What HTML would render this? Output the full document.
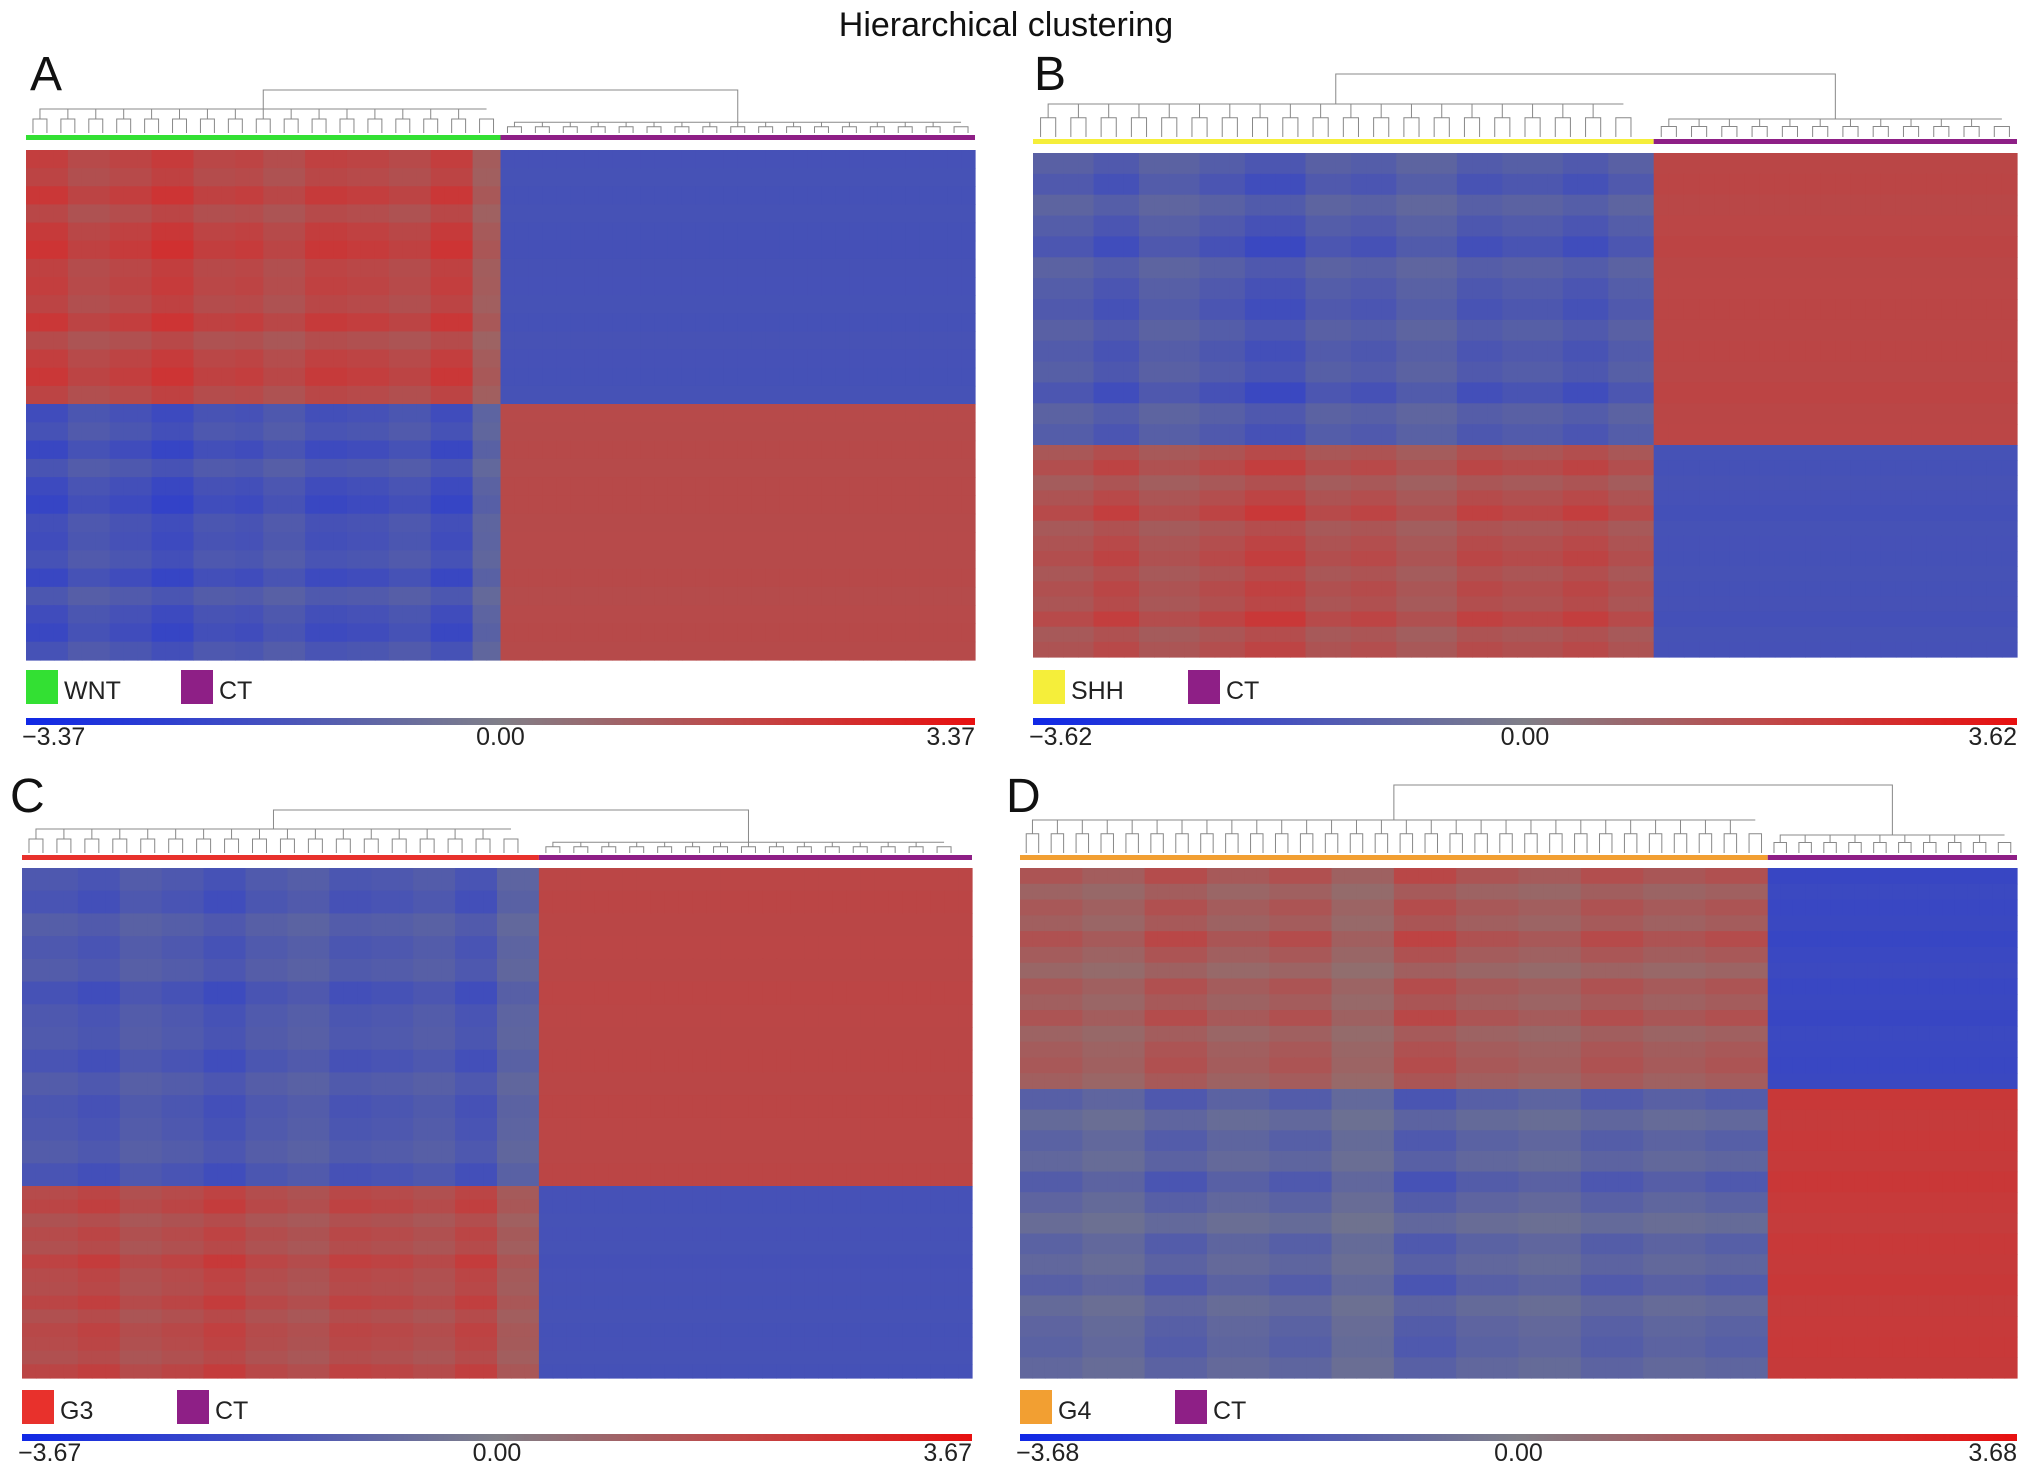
<!DOCTYPE html>
<html><head><meta charset="utf-8">
<style>
html,body{margin:0;padding:0;background:#fff;}
body{width:2032px;height:1473px;overflow:hidden;font-family:"Liberation Sans",sans-serif;}
</style></head>
<body>
<svg id="fig" width="2032" height="1473" xmlns="http://www.w3.org/2000/svg">
<text x="1006" y="36" font-size="34" text-anchor="middle" fill="#111" font-family="Liberation Sans, sans-serif">Hierarchical clustering</text>
</svg>
<script>
// ---- data ----
const panelLetters = ["A","B","C","D"];
const groupLabels = [["WNT","CT"],["SHH","CT"],["G3","CT"],["G4","CT"]];
const groupColors = [["#33e033","#8e1f86"],["#f5ee3a","#8e1f86"],["#e8312c","#8e1f86"],["#f29f32","#8e1f86"]];
const scaleMax = [3.37,3.62,3.67,3.68];
const colCounts = [[34,34],[41,24],[37,31],[60,20]];
// quadrant mean values (fraction of scale max): [top-left, top-right, bottom-left, bottom-right]
const quadA = [0.6,-0.58,-0.58,0.54];
const quadB = [-0.48,0.58,0.5,-0.58];
const quadC = [-0.5,0.58,0.53,-0.58];
const quadD = [0.36,-0.7,-0.34,0.7];
// column strength bands
const colBandsA = [1.1,0.9,1.0,1.15,0.95,1.0,0.85,1.05,1.0,0.9,1.1,0.6];
const colBandsB = [0.9,1.1,0.85,1.0,1.2,0.9,1.0,0.8,1.05,0.95,1.1,0.9];
const colBandsC = [1.0,1.1,0.9,1.0,1.15,0.95,0.85,1.05,1.0,0.9,1.1,0.7];
const colBandsD = [1.0,0.8,1.2,0.9,1.1,0.7,1.3,1.0,0.85,1.15,0.95,1.1];
// row strength bands
const rowBandsA = [1.0,0.9,1.1,0.85,1.05,1.15,0.95,1.0,0.9,1.1,0.8,1.0,1.1,0.9];
const rowBandsB = [0.9,1.1,0.8,1.0,1.2,0.85,1.0,1.1,0.9,1.05,0.95,1.2,0.85,1.0];
const rowBandsC = [1.0,1.1,0.85,1.0,0.9,1.15,1.0,0.95,1.1,0.9,1.05,1.0,0.9,1.1];
const rowBandsD = [1.2,0.8,1.1,0.9,1.3,1.0,0.7,1.1,0.9,1.2,0.8,1.0,1.1,0.9];
const quads = [quadA,quadB,quadC,quadD];
const colBands = [colBandsA,colBandsB,colBandsC,colBandsD];
const rowBands = [rowBandsA,rowBandsB,rowBandsC,rowBandsD];

// ---- layout ----
const layout = [
 {x0:26,x1:975,y0:150,y1:660,splitY:404,barY:135,letterX:30,letterY:90,legY:670,cbY:718},
 {x0:1033,x1:2017,y0:153,y1:657,splitY:445,barY:139,letterX:1034,letterY:90,legY:670,cbY:718},
 {x0:22,x1:972,y0:868,y1:1378,splitY:1186,barY:855,letterX:10,letterY:812,legY:1390,cbY:1434},
 {x0:1020,x1:2017,y0:868,y1:1378,splitY:1089,barY:855,letterX:1006,letterY:812,legY:1390,cbY:1434}
];
const NS="http://www.w3.org/2000/svg";
const svg=document.getElementById('fig');
function mk(tag,attrs,parent){const e=document.createElementNS(NS,tag);for(const k in attrs)e.setAttribute(k,attrs[k]);(parent||svg).appendChild(e);return e;}
function color(v){v=Math.max(-1,Math.min(1,v));const a=Math.abs(v);
 let r,g,b; if(v<0){r=128-a*100;g=128-a*80;b=128+a*95;}else{r=128+a*102;g=128-a*100;b=128-a*100;}
 return `rgb(${r|0},${g|0},${b|0})`;}

layout.forEach((L,p)=>{
 const g=mk('g',{});
 
 
 const letter=mk('text',{x:L.letterX,y:L.letterY,'font-size':48,fill:'#111','font-family':'Liberation Sans, sans-serif'},g);
 letter.textContent=panelLetters[p];
 
 
 const [nL,nR]=colCounts[p]; const n=nL+nR;
 const W=L.x1-L.x0; const cw=W/n;
 const xSplit=L.x0+cw*nL;
 const q=quads[p], cb=colBands[p], rb=rowBands[p];
 const hm=mk('g',{},g);
 
 
 const rowsPerHalf=rb.length;
 const halves=[[L.y0,L.splitY],[L.splitY,L.y1]];
 halves.forEach((hv,hi)=>{
  const rh=(hv[1]-hv[0])/rowsPerHalf;
  for(let r=0;r<rowsPerHalf;r++){
   for(let c=0;c<n;c++){
    const side=c<nL?0:1;
    const base=q[hi*2+side];
    const colIdx=side===0?Math.floor(c/nL*cb.length):Math.floor((c-nL)/nR*cb.length);
    const v=side===0?base*cb[colIdx]*rb[r]:base*(0.9+0.1*rb[r]);
    const cell=mk('rect',{x:(L.x0+c*cw).toFixed(2),y:(hv[0]+r*rh).toFixed(2),width:(cw+0.6).toFixed(2),height:(rh+0.6).toFixed(2),fill:color(v)},hm);
    
    
   }
  }
 });
 const gb1=mk('rect',{x:L.x0,y:L.barY,width:xSplit-L.x0,height:5,fill:groupColors[p][0]},g);
 
 
 const gb2=mk('rect',{x:xSplit,y:L.barY,width:L.x1-xSplit,height:5,fill:groupColors[p][1]},g);
 
 
 const dg=mk('g',{stroke:'#888','stroke-width':1,fill:'none'},g);
 
 
 const leafTop=L.barY-2;
 function subtree(start,count,h){
  let d='';
  const pairs=Math.floor(count/2);
  const mids=[];
  for(let i=0;i<pairs;i++){
   const xa=L.x0+(start+2*i+0.5)*cw, xb=L.x0+(start+2*i+1.5)*cw;
   const hy=leafTop-h*0.35;
   d+=`M${xa},${leafTop}V${hy}H${xb}V${leafTop}`;
   mids.push((xa+xb)/2);
  }
  const top=leafTop-h;
  const hy2=leafTop-h*0.6;
  d+=`M${mids[0]},${leafTop-h*0.35}V${hy2}H${mids[mids.length-1]}`;
  for(let i=1;i<mids.length-1;i++) d+=`M${mids[i]},${leafTop-h*0.35}V${hy2}`;
  const cx=(mids[0]+mids[mids.length-1])/2;
  d+=`M${cx},${hy2}V${top}`;
  return {d,cx,top};
 }
 const hL=(p===1||p===3)?55:40, hR=(p===1||p===3)?30:18;
 const a=subtree(0,nL,hL), b=subtree(nL,nR,hR);
 const rootY=L.barY-(p===3?70:(p===1?65:45));
 const dpath=mk('path',{d:a.d+b.d+`M${a.cx},${a.top}V${rootY}H${b.cx}V${b.top}`},dg);
 
 
 const lg=mk('g',{},g);
 
 
 [0,1].forEach(i=>{
  const lx=L.x0+(i?155:0);
  const sw=mk('rect',{x:lx,y:L.legY,width:32,height:34,fill:groupColors[p][i]},lg);
  
  
  const t=mk('text',{x:lx+38,y:L.legY+29,'font-size':25,fill:'#222','font-family':'Liberation Sans, sans-serif'},lg);
  t.textContent=groupLabels[p][i];
  
  
 });
 const gid='grad'+p;
 const defs=mk('defs',{},g);
 
 
 const lgd=mk('linearGradient',{id:gid,x1:0,x2:1,y1:0,y2:0},defs);
 
 
 [['0%','#1028e6'],['25%','#4450c0'],['50%','#807f88'],['75%','#c04848'],['100%','#e81010']].forEach(s=>{
  const st=mk('stop',{offset:s[0],'stop-color':s[1]},lgd);
  
  
 });
 const cbr=mk('rect',{x:L.x0,y:L.cbY,width:W,height:7,fill:`url(#${gid})`},g);
 
 
 const ticks=[-scaleMax[p],0,scaleMax[p]];
 const anchors=['start','middle','end'];
 const txs=[L.x0-4,L.x0+W/2,L.x1];
 ticks.forEach((v,i)=>{
  const t=mk('text',{x:txs[i],y:L.cbY+27,'font-size':25,fill:'#222','text-anchor':anchors[i],'font-family':'Liberation Sans, sans-serif'},g);
  t.textContent=(v<0?'\u2212':'')+Math.abs(v).toFixed(2);
  
  
 });
});
</script>
</body></html>
